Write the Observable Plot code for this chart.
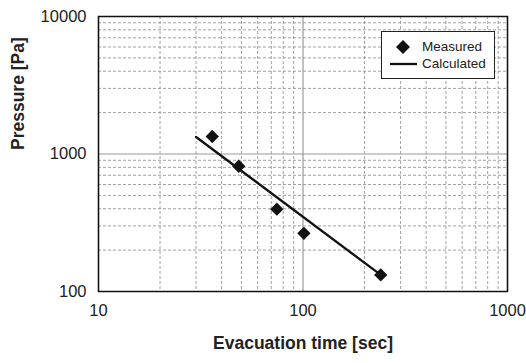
<!DOCTYPE html>
<html><head><meta charset="utf-8">
<script src="https://cdn.jsdelivr.net/npm/d3@7"></script>
<script src="https://cdn.jsdelivr.net/npm/@observablehq/plot@0.6"></script>
<style>
body{margin:0;background:#fff;font-family:"Liberation Sans",Arial,sans-serif;}
#wrap{position:relative;width:526px;height:363px;}
#legend{position:absolute;left:381px;top:31px;width:114px;height:48px;border:1px solid #222;background:#fff;box-sizing:border-box;font-size:13.5px;color:#222;}
#legend .row{position:absolute;left:0;height:16px;line-height:16px;}
</style></head>
<body><div id="wrap"></div>
<script>
const measuredTime = [36, 48.5, 74.5, 101, 240];
const measuredPressure = [1340, 815, 397, 265, 132];
const calcTime = [30, 240];
const calcPressure = [1330, 132];
const xTicks = [10, 100, 1000];
const yTicks = [100, 1000, 10000];
const minorSteps = [2, 3, 4, 5, 6, 7, 8, 9];
const xTitle = "Evacuation time [sec]";
const yTitle = "Pressure [Pa]";
const legendLabels = ["Measured", "Calculated"];

const measured = measuredTime.map((t, i) => ({t, p: measuredPressure[i]}));
const calc = calcTime.map((t, i) => ({t, p: calcPressure[i]}));
const xMinor = xTicks.slice(0, -1).flatMap(d => minorSteps.map(s => s * d));
const yMinor = yTicks.slice(0, -1).flatMap(d => minorSteps.map(s => s * d));

const chart = Plot.plot({
  width: 526, height: 363,
  marginLeft: 98, marginRight: 19, marginTop: 16, marginBottom: 72,
  style: {fontFamily: "Liberation Sans, Arial, sans-serif", fontSize: "16.5px", color: "#222", background: "#fff"},
  x: {type: "log", domain: [10, 1000]},
  y: {type: "log", domain: [100, 10000]},
  marks: [
    Plot.ruleX(xMinor, {stroke: "#8a8a8a", strokeDasharray: "3,2", strokeWidth: 0.8}),
    Plot.ruleY(yMinor, {stroke: "#8a8a8a", strokeDasharray: "3,2", strokeWidth: 0.8}),
    Plot.ruleX(xTicks, {stroke: "#999", strokeWidth: 1.2}),
    Plot.ruleY(yTicks, {stroke: "#999", strokeWidth: 1.2}),
    Plot.axisX({ticks: xTicks, tickSize: 0, tickPadding: 13, tickFormat: d => String(d), label: null, fontSize: 16.5}),
    Plot.axisY({ticks: yTicks, tickSize: 0, tickPadding: 12, tickFormat: d => String(d), label: null, fontSize: 16.5}),
    Plot.frame({stroke: "#111", strokeWidth: 1.5}),
    Plot.line(calc, {x: "t", y: "p", stroke: "#111", strokeWidth: 2.3}),
    Plot.dot(measured, {x: "t", y: "p", symbol: "diamond2", r: 6, fill: "#111", stroke: "none"}),
    Plot.text([xTitle], {frameAnchor: "bottom", dy: 57, fontWeight: "bold", fontSize: 17.5, fill: "#222"}),
    Plot.text([yTitle], {frameAnchor: "left", rotate: -90, dx: -80, dy: -4, fontWeight: "bold", fontSize: 17.5, fill: "#222"})
  ]
});
const wrap = document.getElementById("wrap");
wrap.appendChild(chart);

const leg = document.createElement("div");
leg.id = "legend";
leg.innerHTML = `
<div class="row" style="top:7px;left:40px">${legendLabels[0]}</div>
<div class="row" style="top:24px;left:40px">${legendLabels[1]}</div>
<svg width="40" height="46" style="position:absolute;left:0;top:0">
  <path d="M21,8 L28,15 L21,22 L14,15 Z" fill="#111"/>
  <line x1="8" x2="35" y1="32" y2="32" stroke="#111" stroke-width="2.3"/>
</svg>`;
wrap.appendChild(leg);
</script>
</body></html>
